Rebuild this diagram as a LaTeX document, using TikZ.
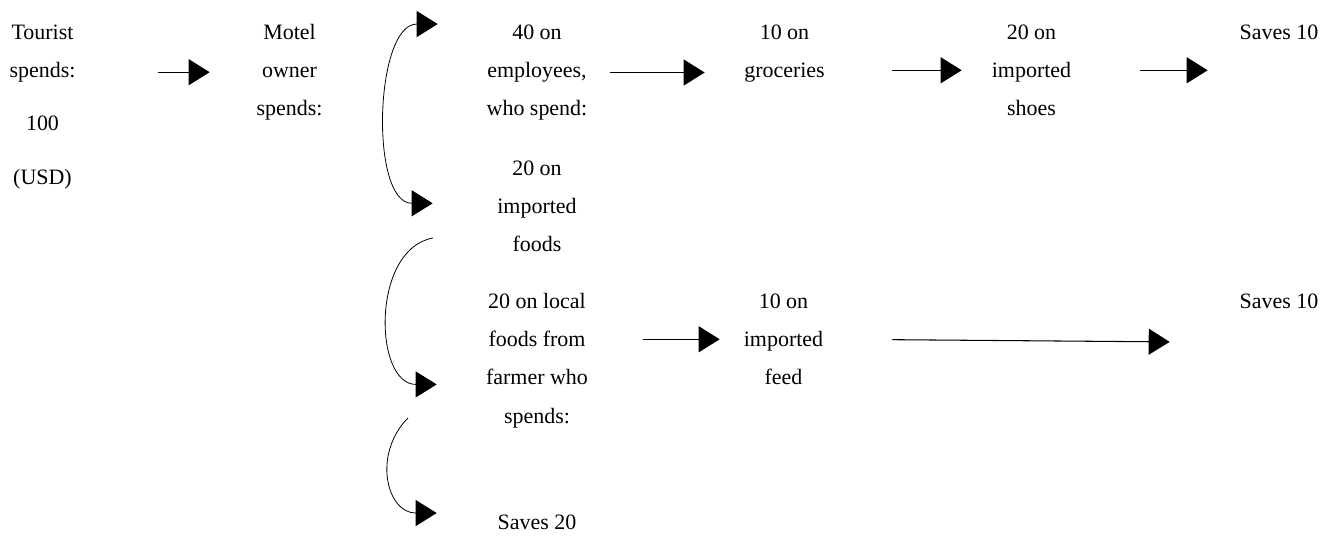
\documentclass[tikz,border=0pt]{standalone}
\usepackage{fontspec}
\setmainfont{Liberation Serif}
\usetikzlibrary{arrows.meta}
\begin{document}
\begin{tikzpicture}[x=0.02cm,y=-0.02cm,
  bighead/.tip={Triangle[length=0.42cm,width=0.52cm]},
  txt/.style={anchor=base,inner sep=0pt,text width=2.4cm,align=flush center,font=\fontsize{12.5}{21.9}\selectfont},
  arr/.style={-bighead,line width=0.6pt},
  bent/.style={line width=0.45pt}]
\useasboundingbox (0,0) rectangle (1332,535);

\node[txt] (tourist) at (42.5,39) {Tourist\\spends:\\[0.3cm]100\\[0.3cm](USD)};
\node[txt] (motel) at (289.5,39) {Motel\\owner\\spends:};
\node[txt] (empl) at (537,39) {40 on\\employees,\\who spend:};
\node[txt] (impfood) at (537,175) {20 on\\imported\\foods};
\node[txt] (farmer) at (537,308) {20 on local\\foods from\\farmer who\\spends:};
\node[txt] (saves20) at (537,529) {Saves 20};
\node[txt] (groc) at (784.5,39) {10 on\\groceries};
\node[txt] (shoes) at (1031.5,39) {20 on\\imported\\shoes};
\node[txt] (savesA) at (1279,39) {Saves 10};
\node[txt] (feed) at (783.5,308) {10 on\\imported\\feed};
\node[txt] (savesB) at (1279,308) {Saves 10};

\draw[arr,shorten <=1.11cm,shorten >=0.39cm](tourist.east |- motel.west)--(motel.west);
\draw[arr,shorten <=0.26cm,shorten >=0.39cm](empl.east)--(groc.west |- empl.east);
\draw[arr,shorten <=0.95cm,shorten >=0.19cm](groc.east |- shoes.west)--(shoes.west);
\draw[arr,shorten <=0.97cm,shorten >=0.22cm](shoes.east)--(savesA.west |- shoes.east);
\draw[arr,shorten <=0.92cm,shorten >=0.07cm](farmer.east |- feed.west)--(feed.west);
\draw[arr,shorten <=0.97cm,shorten >=0.98cm](feed.east)--([yshift=-0.06cm]savesB.west |- feed.east);

\coordinate (cs2) at (433,238);
\coordinate (cs3) at (408,418);
\draw[bent,bighead-bighead]([xshift=-0.78cm]empl.north west) to[out=180,in=180,looseness=0.9] ([xshift=-0.88cm,yshift=0.06cm]impfood.west);
\draw[bent,-bighead](cs2) to[out=190,in=180,looseness=1.1] ([xshift=-0.8cm,yshift=-0.48cm]farmer.west);
\draw[bent,-bighead](cs3) to[out=225,in=180,looseness=1.3] ([xshift=-0.8cm,yshift=0.02cm]saves20.north west);
\end{tikzpicture}
\end{document}
